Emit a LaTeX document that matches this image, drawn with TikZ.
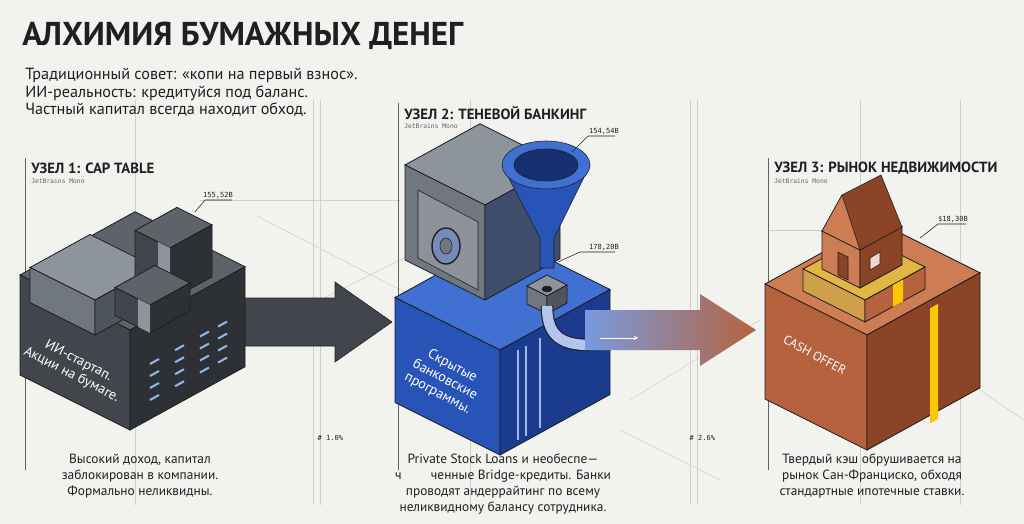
\documentclass[tikz,border=0pt]{standalone}
\usepackage{fontspec}
\setmainfont{PT Sans}
\setmonofont{DejaVu Sans Mono}
\usetikzlibrary{positioning}
\definecolor{bg}{HTML}{F2F2EF}
\definecolor{ink}{HTML}{1E1F22}
\definecolor{guide}{HTML}{CFCFCC}
\definecolor{gtop}{HTML}{5E636A}
\definecolor{gleft}{HTML}{42464C}
\definecolor{gright}{HTML}{2D3035}
\definecolor{btop}{HTML}{3F70D2}
\definecolor{bleft}{HTML}{2854B8}
\definecolor{bright}{HTML}{1B3C8E}
\definecolor{otop}{HTML}{CD7C53}
\definecolor{oleft}{HTML}{B5633E}
\definecolor{oright}{HTML}{8C4426}
\definecolor{stop}{HTML}{8D949C}
\definecolor{sleft}{HTML}{70777F}
\definecolor{sright}{HTML}{4F555D}
\definecolor{dashblue}{HTML}{8FB4E8}
% isometric prism: front-top (x,y), width a, depth b, height h, colours top/left/right
\newcommand{\isoprism}[8]{%
  \filldraw[draw=ink, line width=0.6pt, fill=#6] (#1,#2) -- ({#1+#3},{#2-0.55*#3}) -- ({#1+#3-#4},{#2-0.55*#3-0.5*#4}) -- ({#1-#4},{#2-0.5*#4}) -- cycle;
  \filldraw[draw=ink, line width=0.6pt, fill=#7] ({#1-#4},{#2-0.5*#4}) -- (#1,#2) -- (#1,{#2+#5}) -- ({#1-#4},{#2-0.5*#4+#5}) -- cycle;
  \filldraw[draw=ink, line width=0.6pt, fill=#8] (#1,#2) -- ({#1+#3},{#2-0.55*#3}) -- ({#1+#3},{#2-0.55*#3+#5}) -- (#1,{#2+#5}) -- cycle;}
\begin{document}
\begin{tikzpicture}[x=0.025cm, y=-0.025cm,
    guideln/.style={draw=guide, line width=0.4pt},
    colln/.style={draw=ink!70, line width=0.6pt},
    head/.style={anchor=west, font=\bfseries\fontsize{10.5}{12}\selectfont, text=ink, inner sep=0pt},
    sub/.style={anchor=north west, font=\ttfamily\fontsize{4.5}{5}\selectfont, text=ink!70, inner sep=0pt},
    val/.style={font=\ttfamily\fontsize{5}{6}\selectfont, text=ink, inner sep=1pt},
    body/.style={align=center, font=\fontsize{9.5}{11.3}\selectfont, text=ink, inner sep=0pt},
    face/.style={align=center, text=white, font=\fontsize{10}{11}\selectfont, inner sep=0pt},
  ]
  \fill[bg] (0,0) rectangle (1024,524);
  \useasboundingbox (0,0) rectangle (1024,524);

  % construction guides
  \foreach \gx in {135,313,320,470,690,697,860,960}
    \draw[guideln] (\gx,100) -- (\gx,505);
  \draw[guideln] (260,330) -- (420,250);
  \draw[guideln] (255,215) -- (420,300);
  \draw[guideln] (630,400) -- (760,320);
  \draw[guideln] (620,430) -- (720,480);
  \draw[guideln] (980,390) -- (1024,420);
  \draw[guideln] (200,200) -- (400,200);
  \draw[guideln] (770,230) -- (900,230);

  % title
  \node[anchor=west, font=\bfseries\fontsize{23.5}{26}\selectfont, text=ink, inner sep=0pt] (title) at (22,36) {АЛХИМИЯ БУМАЖНЫХ ДЕНЕГ};
  \node[anchor=north west, align=left, font=\fontsize{11.5}{12.4}\selectfont, text=ink, inner sep=0pt] (intro) at (25,68)
    {Традиционный совет: «копи на первый взнос».\\ИИ-реальность: кредитуйся под баланс.\\Частный капитал всегда находит обход.};

  % column headers
  \draw[colln] (25,158) -- (25,470);
  \draw[colln] (398,103) -- (398,470);
  \draw[colln] (768,158) -- (768,470);
  \node[head] (h1) at (31,168) {УЗЕЛ 1: CAP TABLE};
  \node[sub] (s1) at (31,178) {JetBrains Mono};
  \node[head] (h2) at (404,113) {УЗЕЛ 2: ТЕНЕВОЙ БАНКИНГ};
  \node[sub] (s2) at (404,123) {JetBrains Mono};
  \node[head] (h3) at (774,168) {УЗЕЛ 3: РЫНОК НЕДВИЖИМОСТИ};
  \node[sub] (s3) at (774,178) {JetBrains Mono};

  % arrow 1
  \filldraw[draw=ink, fill=gleft] (240,298) -- (335,298) -- (335,282) -- (392,322) -- (335,362) -- (335,346) -- (240,346) -- cycle;

  % block 1
  \isoprism{130}{330}{115}{110}{100}{gtop}{gleft}{gright}
  \node[face, rotate=-27] (f1) at (75,368) {ИИ-стартап.\\Акции на бумаге.};
  \foreach \sx in {150,175,200,218}
    \foreach \sy in {0,12,24,36}
      \draw[dashblue, line width=1.5pt] (\sx,{375-0.55*(\sx-130)+\sy}) -- ++(9,-5);
  % paper and money stacks
  \isoprism{95}{300}{60}{65}{35}{stop}{sleft}{sright}
  \isoprism{170}{248}{42}{35}{52}{gtop}{gleft}{gright}
  \fill[stop] (158,242) -- (170,248) -- (170,300) -- (158,294) -- cycle;
  \isoprism{150}{305}{40}{35}{28}{gtop}{gleft}{gright}
  \fill[stop] (138,299) -- (150,305) -- (150,333) -- (138,327) -- cycle;
  \draw[ink] (195,212) -- (205,200) -- (232,200);
  \node[val, anchor=south] (v1) at (218,200) {155,52B};

  % block 2
  \isoprism{500}{350}{110}{105}{105}{btop}{bleft}{bright}
  \node[face, rotate=-28] (f2) at (445,380) {Скрытые\\банковские\\программы.};
  \foreach \px in {518,526,540}
    \draw[white!50!btop, line width=1.5pt] (\px,{350-0.55*(\px-500)+10}) -- (\px,{455-0.55*(\px-500)-5});
  % safe
  \isoprism{485}{205}{75}{80}{95}{stop}{sleft}{sright!70!bright}
  \draw[ink, fill=sleft!80] (418,190) -- (478,222) -- (478,290) -- (418,258) -- cycle;
  \draw[ink, fill=bright!60, line width=1pt] (446,246) ellipse (14 and 18);
  \draw[ink, fill=sleft] (446,246) ellipse (6 and 8);
  % funnel and pipe
  \filldraw[draw=ink, fill=bleft] (502,165) -- (540,238) -- (540,268) -- (554,268) -- (554,238) -- (590,165) -- cycle;
  \filldraw[draw=ink, fill=btop] (546,165) ellipse (44 and 24);
  \filldraw[draw=ink, fill=bright!80!black] (546,165) ellipse (32 and 16);
  \isoprism{547}{296}{20}{20}{18}{stop}{sleft}{sright}
  \draw[ink, fill=ink] (547,289) ellipse (5 and 3);
  \draw[ink, line width=9pt] (547,306) .. controls (547,335) and (560,345) .. (590,345);
  \draw[btop!40, line width=7.4pt] (547,306) .. controls (547,335) and (560,345) .. (590,345);
  \draw[ink] (572,152) -- (588,136) -- (615,136);
  \node[val, anchor=south] (v2) at (604,136) {154,54B};
  \draw[ink] (558,262) -- (580,252) -- (615,252);
  \node[val, anchor=south] (v3) at (604,252) {178,20B};

  % arrow 2
  \shade[left color=btop!70, right color=oleft, draw=none] (585,310) -- (700,310) -- (700,294) -- (756,330) -- (700,366) -- (700,350) -- (585,350) -- cycle;
  \draw[white!70, -stealth] (600,338) -- (638,338);

  % block 3
  \isoprism{867}{335}{113}{102}{115}{otop}{oleft}{oright}
  \fill[yellow!60!orange] (930,{335-0.55*63+8}) -- ++(8,-4.4) -- ++(0,115) -- ++(-8,4.4) -- cycle;
  \node[face, rotate=-28, font=\fontsize{9}{10}\selectfont] (f3) at (815,355) {CASH OFFER};
  % money pile and house
  \isoprism{865}{300}{60}{62}{22}{yellow!40!otop}{yellow!30!oleft}{oleft}
  \fill[yellow!60!orange] (893,285) -- ++(10,-5.5) -- ++(0,22) -- ++(-10,5.5) -- cycle;
  \isoprism{860}{250}{42}{38}{38}{oleft}{otop}{oright}
  \filldraw[draw=ink, fill=oright] (822,231) -- (842,195) -- (881,175) -- (902,227) -- (860,250) -- cycle;
  \filldraw[draw=ink, fill=otop] (842,195) -- (822,231) -- (860,250) -- cycle;
  \draw[ink, fill=oright] (838,252) -- (848,257) -- (848,280) -- (838,275) -- cycle;
  \draw[ink, fill=white!70!otop] (870,258) -- (880,252) -- (880,264) -- (870,270) -- cycle;
  \draw[ink] (920,238) -- (938,224) -- (966,224);
  \node[val, anchor=south] (v4) at (953,224) {\$18,30B};

  % percent markers
  \node[val, anchor=west] (p1) at (316,438) {\# 1.0\%};
  \node[val, anchor=west] (p2) at (688,438) {\# 2.6\%};

  % captions
  \node[body] (c1) at (140,476) {Высокий доход, капитал\\заблокирован в компании.\\Формально неликвидны.};
  \node[body] (c2) at (503,484) {Private Stock Loans и необеспе—\\ч\hspace{2.2em}ченные Bridge-кредиты. Банки\\проводят андеррайтинг по всему\\неликвидному балансу сотрудника.};
  \node[body] (c3) at (872,476) {Твердый кэш обрушивается на\\рынок Сан-Франциско, обходя\\стандартные ипотечные ставки.};
\end{tikzpicture}
\end{document}
